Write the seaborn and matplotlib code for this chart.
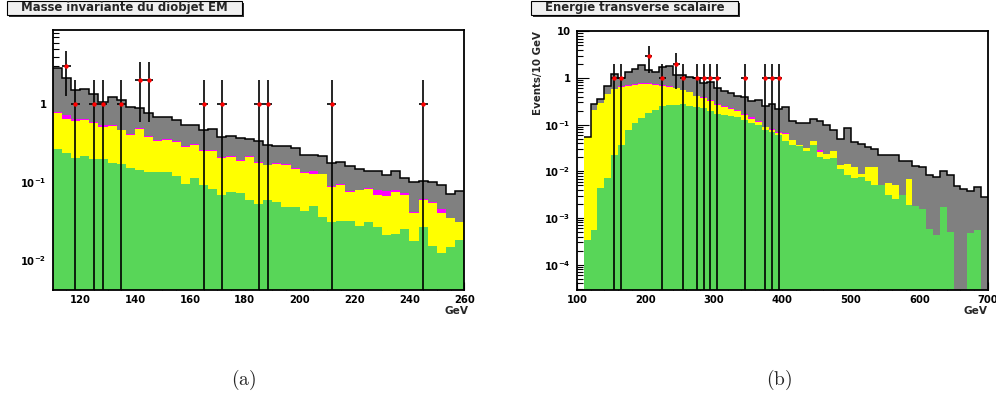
import numpy as np
import matplotlib
matplotlib.use("Agg")
import matplotlib.pyplot as plt
import seaborn as sns
from matplotlib.patches import Rectangle
from matplotlib.ticker import (FixedLocator, FixedFormatter, LogLocator,
                               MultipleLocator, NullFormatter)

# ------------------- DONNÉES ------------------- #

# (a) masse invariante du diobjet EM : 45 bins entre 110 et 260 GeV
# niveaux empilés (vert, +jaune, +magenta, total gris)
masse_min, masse_max, masse_nbins = 110, 260, 45
masse_vert = [0.267, 0.234, 0.202, 0.217, 0.197, 0.197, 0.175, 0.171, 0.151, 0.144,
              0.134, 0.134, 0.134, 0.120, 0.095, 0.112, 0.092, 0.082, 0.069, 0.075,
              0.072, 0.059, 0.053, 0.059, 0.056, 0.0475, 0.0475, 0.043, 0.049, 0.0357,
              0.0309, 0.0321, 0.0315, 0.0272, 0.0309, 0.0264, 0.0209, 0.0217, 0.0251, 0.0175,
              0.0267, 0.0151, 0.0122, 0.0147, 0.0182]
masse_jaune = [0.753, 0.644, 0.595, 0.613, 0.566, 0.499, 0.519, 0.457, 0.402, 0.480,
               0.375, 0.337, 0.347, 0.324, 0.280, 0.300, 0.251, 0.251, 0.202, 0.206,
               0.187, 0.209, 0.175, 0.163, 0.170, 0.165, 0.148, 0.130, 0.128, 0.126,
               0.0855, 0.0925, 0.0753, 0.0783, 0.0814, 0.0689, 0.0656, 0.0745, 0.0676, 0.0402,
               0.0583, 0.0539, 0.0402, 0.0347, 0.0309]
masse_magenta = [0.775, 0.710, 0.637, 0.637, 0.583, 0.529, 0.534, 0.466, 0.410, 0.482,
                 0.383, 0.340, 0.354, 0.331, 0.285, 0.306, 0.256, 0.256, 0.206, 0.213,
                 0.193, 0.217, 0.178, 0.166, 0.175, 0.170, 0.151, 0.133, 0.137, 0.128,
                 0.0898, 0.0943, 0.0760, 0.079, 0.0838, 0.0798, 0.0760, 0.0791, 0.0716, 0.0410,
                 0.0607, 0.055, 0.0452, 0.0350, 0.0312]
masse_total = [2.85, 2.13, 1.51, 1.55, 1.33, 1.05, 1.20, 1.12, 0.90, 0.88,
               0.76, 0.68, 0.68, 0.61, 0.54, 0.53, 0.46, 0.48, 0.38, 0.39,
               0.36, 0.35, 0.33, 0.30, 0.29, 0.285, 0.27, 0.22, 0.22, 0.217,
               0.175, 0.178, 0.158, 0.148, 0.137, 0.137, 0.124, 0.137, 0.112, 0.100,
               0.104, 0.099, 0.092, 0.071, 0.077]
masse_data_x = [115.0, 118.3, 125.0, 128.3, 135.0, 141.7, 145.0, 165.0, 171.7,
                185.0, 188.3, 211.7, 245.0]
masse_data_n = [3, 1, 1, 1, 1, 2, 2, 1, 1, 1, 1, 1, 1]

# (b) énergie transverse scalaire : bins de 10 GeV entre 100 et 700 GeV
et_min, et_max, et_nbins = 100, 700, 60
et_vert = [0, 3.4e-4, 5.6e-4, 4.4e-3, 7.2e-3, 0.0228, 0.0373, 0.078, 0.109, 0.139,
           0.178, 0.21, 0.247, 0.26, 0.268, 0.277, 0.255, 0.235, 0.228, 0.2,
           0.169, 0.158, 0.151, 0.144, 0.128, 0.109, 0.1, 0.078, 0.0696, 0.061,
           0.044, 0.0373, 0.0343, 0.0277, 0.036, 0.02, 0.0187, 0.0193, 0.0114, 0.0085,
           0.0072, 0.0076, 0.0063, 0.005, 0.005, 0.00316, 0.0026, 0.00316, 0.00193, 0.00184,
           0.00156, 5.8e-4, 4.4e-4, 0.0017, 5.0e-4, 0, 0, 4.8e-4, 5.6e-4, 0]
et_jaune = [0, 0.0553, 0.206, 0.287, 0.447, 0.572, 0.641, 0.674, 0.708, 0.732,
            0.732, 0.708, 0.685, 0.652, 0.61, 0.553, 0.493, 0.405, 0.373, 0.327,
            0.26, 0.235, 0.217, 0.2, 0.158, 0.134, 0.114, 0.0877, 0.078, 0.0663,
            0.063, 0.0477, 0.036, 0.0316, 0.044, 0.026, 0.0235, 0.0268, 0.0139, 0.0144,
            0.0122, 0.0089, 0.0122, 0.0122, 0.005, 0.0056, 0.0052, 0.00316, 0.00685, 0.00184,
            0.00156, 5.8e-4, 4.4e-4, 0.0017, 5.0e-4, 0, 0, 4.8e-4, 5.6e-4, 0]
et_magenta = [0, 0.0553, 0.21, 0.29, 0.45, 0.58, 0.66, 0.70, 0.74, 0.77,
              0.77, 0.74, 0.70, 0.665, 0.62, 0.56, 0.50, 0.41, 0.39, 0.345,
              0.275, 0.245, 0.225, 0.205, 0.17, 0.143, 0.117, 0.090, 0.080, 0.070,
              0.066, 0.0477, 0.036, 0.0316, 0.044, 0.028, 0.0235, 0.0268, 0.0139, 0.0144,
              0.0122, 0.0089, 0.0122, 0.0122, 0.005, 0.0056, 0.0052, 0.00316, 0.00685, 0.00184,
              0.00156, 5.8e-4, 4.4e-4, 0.0017, 5.0e-4, 0, 0, 4.8e-4, 5.6e-4, 0]
et_total = [0, 0.0553, 0.277, 0.349, 0.674, 1.22, 0.98, 1.37, 1.53, 1.87,
            1.48, 1.37, 1.69, 1.84, 1.18, 1.18, 1.07, 1.0, 0.78, 0.81,
            0.61, 0.52, 0.48, 0.405, 0.385, 0.316, 0.338, 0.251, 0.273, 0.213,
            0.243, 0.118, 0.110, 0.110, 0.130, 0.122, 0.098, 0.077, 0.049, 0.086,
            0.0425, 0.0385, 0.0327, 0.0306, 0.022, 0.0228, 0.0228, 0.0164, 0.0164, 0.0128,
            0.0122, 0.0085, 0.0076, 0.010, 0.0085, 0.0049, 0.0042, 0.0037, 0.0045, 0.0028]
et_data_x = [155, 165, 205, 225, 245, 255, 275, 285, 295, 305, 345, 375, 385, 395]
et_data_n = [1, 1, 3, 1, 2, 1, 1, 1, 1, 1, 1, 1, 1, 1]

# ------------------- STYLE ------------------- #

VERT, JAUNE, MAGENTA, GRIS = "#58d658", "#ffff00", "#ff00ff", "#808080"
PLANCHER = 1e-9

sns.set_style("ticks")
plt.rcParams["font.family"] = ["DejaVu Sans"]
plt.rcParams["font.weight"] = "bold"
plt.rcParams["mathtext.fontset"] = "dejavusans"
plt.rcParams["mathtext.default"] = "bf"
plt.rcParams["xtick.color"] = "black"
plt.rcParams["ytick.color"] = "black"

W, H = 996, 398
fig = plt.figure(figsize=(W / 100, H / 100), dpi=100)


def axes_px(x0, y0, x1, y1):
    return fig.add_axes([x0 / W, 1 - y1 / H, (x1 - x0) / W, (y1 - y0) / H])


def dessine(ax, edges, niveaux, data_x, data_n):
    for niveau, couleur in zip(niveaux, [GRIS, MAGENTA, JAUNE, VERT]):
        v = np.asarray(niveau, float)
        v = np.where(v > 0, v, PLANCHER)
        ax.stairs(v, edges, baseline=PLANCHER, fill=True, color=couleur, lw=0)
    total = np.asarray(niveaux[0], float)
    i0 = int(np.argmax(total > 0))
    ax.stairs(total[i0:], edges[i0:], baseline=None, color="black", lw=1.1, zorder=3)
    n = np.asarray(data_n, float)
    err = np.sqrt(n)
    largeur = edges[1] - edges[0]
    ax.errorbar(data_x, n, xerr=largeur / 2, yerr=[np.minimum(err, n - PLANCHER), err],
                fmt="none", ecolor="black", elinewidth=1.2, capsize=0, zorder=5)
    sns.scatterplot(x=data_x, y=n, ax=ax, color="red", s=10, linewidth=0,
                    zorder=6, legend=False)


def habille(ax, xlim, ylim, xmaj, xmin, ymaj, ylabels):
    ax.set_yscale("log")
    ax.set_xlim(*xlim)
    ax.set_ylim(*ylim)
    ax.xaxis.set_major_locator(MultipleLocator(xmaj))
    ax.xaxis.set_minor_locator(MultipleLocator(xmin))
    ax.yaxis.set_major_locator(FixedLocator(ymaj))
    ax.yaxis.set_major_formatter(FixedFormatter(ylabels))
    ax.yaxis.set_minor_locator(LogLocator(base=10, subs=np.arange(2, 10) * 1.0, numticks=30))
    ax.yaxis.set_minor_formatter(NullFormatter())
    ax.tick_params(which="both", direction="in", top=False, right=False, width=0.8,
                   labelsize=7.2)
    ax.tick_params(axis="x", which="major", length=5.8, pad=3.5)
    ax.tick_params(axis="x", which="minor", length=2.9)
    ax.tick_params(axis="y", which="major", length=8.8, pad=4.5)
    ax.tick_params(axis="y", which="minor", length=4.4)
    for s in ax.spines.values():
        s.set_color("black")
        s.set_linewidth(1.3)
    ax.set_xlabel("")
    ax.set_ylabel("")


def boite_titre(x0, x1, texte):
    y0, y1 = 0.7, 15.3
    fig.patches.append(Rectangle(((x0 + 2) / W, 1 - (y1 + 2) / H), (x1 - x0) / W,
                                 (y1 - y0) / H, transform=fig.transFigure,
                                 facecolor="#303030", edgecolor="none"))
    fig.patches.append(Rectangle((x0 / W, 1 - y1 / H), (x1 - x0) / W, (y1 - y0) / H,
                                 transform=fig.transFigure, facecolor="#f0f0f0",
                                 edgecolor="black", lw=0.8))
    fig.text((x0 + x1) / 2 / W, 1 - 11.2 / H, texte, ha="center",
             va="baseline", fontsize=8.4, fontweight="bold")


# ------------------- (a) MASSE INVARIANTE ------------------- #

ax1 = axes_px(52.7, 29.7, 464.3, 289.7)
bords_masse = np.linspace(masse_min, masse_max, masse_nbins + 1)
dessine(ax1, bords_masse, [masse_total, masse_magenta, masse_jaune, masse_vert],
        masse_data_x, masse_data_n)
habille(ax1, (masse_min, masse_max), (0.0042, 8.8), 20, 5,
        [0.01, 0.1, 1], [r"$10^{-2}$", r"$10^{-1}$", "1"])
fig.text(468 / W, 1 - 306 / H, "GeV", ha="right", va="top", fontsize=7.6,
         fontweight="bold")
boite_titre(7, 242, "Masse invariante du diobjet EM")

# ------------------- (b) ENERGIE TRANSVERSE ------------------- #

ax2 = axes_px(576.8, 30.7, 987.8, 289.7)
bords_et = np.linspace(et_min, et_max, et_nbins + 1)
dessine(ax2, bords_et, [et_total, et_magenta, et_jaune, et_vert],
        et_data_x, et_data_n)
habille(ax2, (et_min, et_max), (2.9e-5, 10.3), 100, 20,
        [1e-4, 1e-3, 1e-2, 1e-1, 1, 10],
        [r"$10^{-4}$", r"$10^{-3}$", r"$10^{-2}$", r"$10^{-1}$", "1", "10"])
fig.text(987.5 / W, 1 - 306.5 / H, "GeV", ha="right", va="top", fontsize=7.6,
         fontweight="bold")
fig.text(538 / W, 1 - 31 / H, "Events/10 GeV", rotation=90, ha="center", va="top",
         fontsize=7.4, fontweight="bold")
boite_titre(531, 738, "Energie transverse scalaire")

# ------------------- LÉGENDES (a) / (b) ------------------- #

for xc, lettre in [(244, "a"), (779, "b")]:
    fig.text(xc / W, 1 - 380 / H, r"$\mathrm{(%s)}$" % lettre, ha="center",
             va="center", fontsize=14, math_fontfamily="cm")

fig.savefig("out.png", dpi=100)
plt.close(fig)
